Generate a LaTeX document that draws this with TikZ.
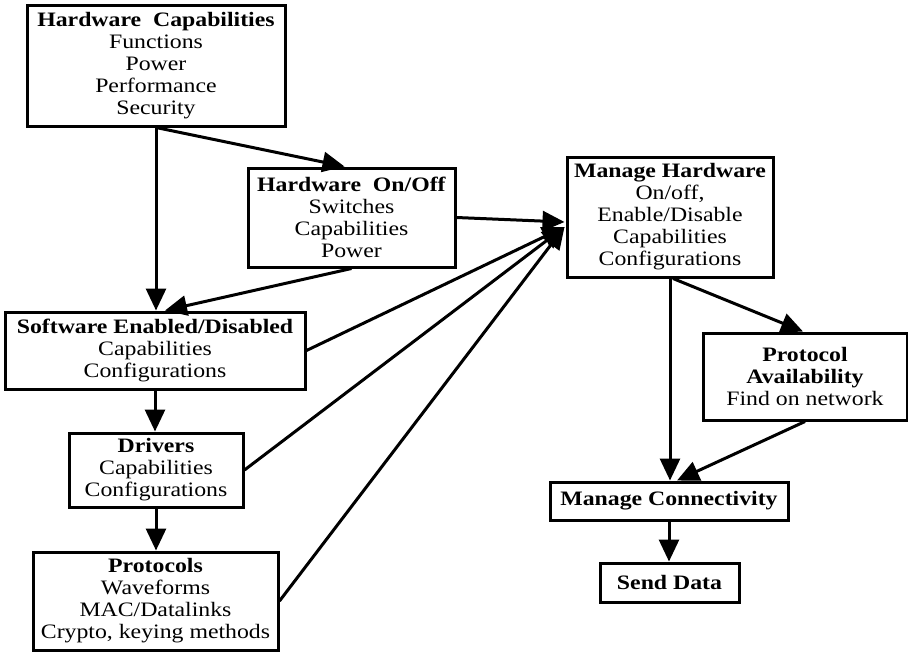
\documentclass[tikz,border=0pt]{standalone}
\usepackage{fontspec}
\setmainfont{Liberation Serif}[FakeStretch=1.16]
\usetikzlibrary{arrows.meta,calc}
\begin{document}
\begin{tikzpicture}[x=1pt,y=1pt,
  box/.style={draw, line width=3pt, align=center, inner sep=0pt,
    font=\fontsize{20.5}{22}\selectfont},
  flow/.style={line width=3pt, -{Triangle[length=22pt,width=20pt]}}]
\useasboundingbox (0,0) rectangle (908,-653);

% left column
\node[box, minimum width=258, minimum height=121] (hwcap) at (156,-65.5)
  {\textbf{Hardware\ \ Capabilities}\\Functions\\Power\\Performance\\Security};
\node[box, minimum width=207, minimum height=99] (hwonoff) at (351.5,-217.5)
  {\textbf{Hardware\ \ On/Off}\\Switches\\Capabilities\\Power};
\node[box, minimum width=300, minimum height=77] (sw) at (155,-350.5)
  {\textbf{Software Enabled/Disabled}\\Capabilities\\Configurations};
\node[box, minimum width=174, minimum height=74] (drv) at (156,-470)
  {\textbf{Drivers}\\Capabilities\\Configurations};
\node[box, minimum width=245, minimum height=98] (proto) at (155.5,-601)
  {\textbf{Protocols}\\Waveforms\\MAC/Datalinks\\Crypto, keying methods};

% right column
\node[box, minimum width=206, minimum height=120] (mh) at (670,-217)
  {\textbf{Manage Hardware}\\On/off,\\Enable/Disable\\Capabilities\\Configurations};
\node[box, minimum width=204, minimum height=87] (pa) at (805,-376.5)
  {\textbf{Protocol}\\\textbf{Availability}\\Find on network};
\node[box, minimum width=238, minimum height=38] (mc) at (669,-501)
  {\textbf{Manage Connectivity}};
\node[box, minimum width=139, minimum height=39] (sd) at (669.5,-582.5)
  {\textbf{Send Data}};

% common entry point on the left side of "Manage Hardware"
\coordinate (conv) at ($(mh.west)+(-1,-10)$);

% connectors
\draw[flow] (hwcap.south) -- (hwcap.south |- sw.north);
\draw[flow] (hwcap.south) -- ($(hwonoff.north)+(-7,0)$);
\draw[flow] (hwonoff.south) -- ($(sw.north)+(10,0)$);
\draw[flow] (hwonoff.east) -- ($(mh.west)+(-1,-5)$);
\draw[flow] (sw.south) -- (sw.south |- drv.north);
\draw[flow] (drv.south) -- (drv.south |- proto.north);
\draw[flow] (sw.east) -- (conv);
\draw[flow] (drv.east) -- (conv);
\draw[flow] (proto.east) -- (conv);
\draw[flow] (mh.south) -- (mh.south |- mc.north);
\draw[flow] ($(mh.south)+(3,0)$) -- ($(pa.north)+(-2,0)$);
\draw[flow] (pa.south) -- ($(mc.north)+(8,0)$);
\draw[flow] (mc.south) -- (mc.south |- sd.north);
\end{tikzpicture}
\end{document}
